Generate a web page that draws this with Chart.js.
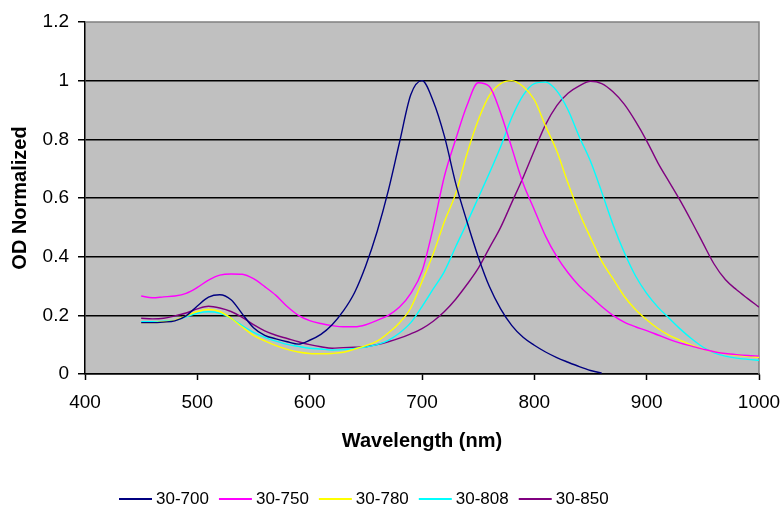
<!DOCTYPE html>
<html lang="en">
    <head>
        <meta charset="UTF-8" />
        <title>OD Normalized</title>
        <script src="https://cdn.jsdelivr.net/npm/chart.js"></script>
        <style>
            html, body { margin: 0; padding: 0; background: #fff; }
            #wrap { width: 782px; height: 508px; }
        </style>
    </head>
    <body>
        <div id="wrap"><canvas id="odChart"></canvas></div>

        <script>
            // Datos
            const wavelengths = [450, 460, 470, 480, 490, 500, 510, 520, 530, 540, 550, 560, 570, 580, 590, 600, 610, 620, 630, 640, 650, 660, 670, 680, 690, 700, 710, 720, 730, 740, 750, 760, 770, 780, 790, 800, 810, 820, 830, 840, 850, 860, 870, 880, 890, 900, 910, 920, 930, 940, 950, 960, 970, 980, 990, 1000];

            const s700 = [0.175, 0.175, 0.177, 0.181, 0.198, 0.232, 0.262, 0.27, 0.253, 0.205, 0.158, 0.132, 0.12, 0.11, 0.102, 0.115, 0.135, 0.168, 0.215, 0.278, 0.37, 0.485, 0.625, 0.79, 0.952, 1.0, 0.93, 0.81, 0.65, 0.52, 0.4, 0.298, 0.222, 0.165, 0.125, 0.098, 0.075, 0.056, 0.04, 0.025, 0.012, 0.003, null, null, null, null, null, null, null, null, null, null, null, null, null, null];
            const s750 = [0.266, 0.26, 0.263, 0.266, 0.275, 0.295, 0.32, 0.337, 0.341, 0.34, 0.325, 0.298, 0.268, 0.23, 0.2, 0.182, 0.172, 0.165, 0.161, 0.161, 0.168, 0.183, 0.2, 0.228, 0.275, 0.35, 0.5, 0.675, 0.8, 0.915, 0.993, 0.98, 0.89, 0.77, 0.65, 0.56, 0.47, 0.4, 0.345, 0.3, 0.265, 0.23, 0.2, 0.177, 0.161, 0.148, 0.133, 0.118, 0.105, 0.095, 0.085, 0.076, 0.07, 0.066, 0.063, 0.061];
            const s780 = [0.175, 0.175, 0.178, 0.183, 0.198, 0.213, 0.22, 0.213, 0.19, 0.16, 0.132, 0.113, 0.097, 0.084, 0.075, 0.07, 0.069, 0.07, 0.074, 0.085, 0.097, 0.112, 0.14, 0.175, 0.225, 0.315, 0.41, 0.52, 0.615, 0.75, 0.865, 0.95, 0.99, 1.0, 0.98, 0.935, 0.845, 0.76, 0.65, 0.55, 0.465, 0.385, 0.325, 0.265, 0.22, 0.185, 0.155, 0.132, 0.115, 0.098, 0.085, 0.076, 0.069, 0.064, 0.06, 0.057];
            const s808 = [0.178, 0.178, 0.18, 0.183, 0.195, 0.207, 0.212, 0.207, 0.19, 0.165, 0.142, 0.125, 0.112, 0.101, 0.094, 0.088, 0.085, 0.082, 0.083, 0.087, 0.092, 0.1, 0.115, 0.14, 0.175, 0.23, 0.29, 0.35, 0.434, 0.515, 0.6, 0.685, 0.775, 0.875, 0.95, 0.99, 0.995, 0.965, 0.9, 0.809, 0.725, 0.62, 0.51, 0.415, 0.335, 0.275, 0.228, 0.19, 0.153, 0.12, 0.092, 0.072, 0.061, 0.054, 0.05, 0.047];
            const s850 = [0.19, 0.188, 0.19, 0.198, 0.208, 0.222, 0.231, 0.225, 0.213, 0.193, 0.168, 0.147, 0.132, 0.121, 0.11, 0.1, 0.093, 0.088, 0.09, 0.091, 0.093, 0.1, 0.11, 0.122, 0.137, 0.155, 0.18, 0.213, 0.255, 0.305, 0.36, 0.43, 0.5, 0.585, 0.67, 0.762, 0.85, 0.915, 0.957, 0.982, 0.998, 0.99, 0.962, 0.92, 0.862, 0.795, 0.72, 0.655, 0.59, 0.52, 0.447, 0.375, 0.322, 0.287, 0.257, 0.228];

            const seriesNames = ["30-700", "30-750", "30-780", "30-808", "30-850"];
            const seriesValues = [s700, s750, s780, s808, s850];
            const seriesColors = ["#000080", "#FF00FF", "#FFFF00", "#00FFFF", "#800080"];

            const yTicks = [0, 0.2, 0.4, 0.6, 0.8, 1, 1.2];
            const FONT = "'Liberation Sans', Arial, sans-serif";

            // fondo gris del área de trazado + borde gris
            const plotBg = {
                id: "plotBg",
                beforeDraw(chart) {
                    const { ctx, chartArea: a } = chart;
                    ctx.save();
                    ctx.fillStyle = "#C0C0C0";
                    ctx.fillRect(a.left, a.top, a.right - a.left, a.bottom - a.top);
                    ctx.restore();
                },
                beforeDatasetsDraw(chart) {
                    const { ctx, chartArea: a } = chart;
                    ctx.save();
                    ctx.strokeStyle = "#808080";
                    ctx.lineWidth = 1.5;
                    ctx.beginPath();
                    ctx.moveTo(a.left, a.top);
                    ctx.lineTo(a.right, a.top);
                    ctx.lineTo(a.right, a.bottom);
                    ctx.stroke();
                    ctx.restore();
                },
            };

            // leyenda inferior (como en Excel)
            const bottomLegend = {
                id: "bottomLegend",
                afterDraw(chart) {
                    const { ctx } = chart;
                    ctx.save();
                    ctx.font = "17px " + FONT;
                    ctx.textBaseline = "middle";
                    let x = 119;
                    const y = 499;
                    chart.data.datasets.forEach((ds) => {
                        ctx.strokeStyle = ds.borderColor;
                        ctx.lineWidth = 2;
                        ctx.beginPath();
                        ctx.moveTo(x, y);
                        ctx.lineTo(x + 33, y);
                        ctx.stroke();
                        ctx.fillStyle = "#000";
                        ctx.fillText(ds.label, x + 37, y);
                        x += 37 + ctx.measureText(ds.label).width + 10;
                    });
                    ctx.restore();
                },
            };

            new Chart(document.getElementById("odChart"), {
                type: "line",
                data: {
                    datasets: seriesNames.map((name, i) => ({
                        label: name,
                        data: wavelengths.map((w, j) => ({ x: w, y: seriesValues[i][j] })),
                        borderColor: seriesColors[i],
                        backgroundColor: seriesColors[i],
                        borderWidth: 1.4,
                        pointRadius: 0,
                        cubicInterpolationMode: "monotone",
                        spanGaps: false,
                    })),
                },
                options: {
                    responsive: true,
                    maintainAspectRatio: false,
                    animation: false,
                    layout: { padding: { top: 22, right: 23, bottom: 54, left: 0 } },
                    plugins: { legend: { display: false }, tooltip: { enabled: false } },
                    scales: {
                        x: {
                            type: "linear",
                            min: 400,
                            max: 1000,
                            afterFit: (s) => {
                                s.height = 80;
                                s.paddingLeft = 0;
                                s.paddingRight = 0;
                            },
                            ticks: {
                                stepSize: 100,
                                padding: 11,
                                color: "#000",
                                font: { family: FONT, size: 19 },
                                callback: (v) => String(v),
                            },
                            grid: { drawOnChartArea: false, tickLength: 6, tickColor: "#000", tickWidth: 1.5 },
                            border: { color: "#000", width: 1.5 },
                            title: {
                                display: true,
                                text: "Wavelength (nm)",
                                color: "#000",
                                padding: { top: 0, bottom: 1 },
                                font: { family: FONT, size: 20, weight: "bold" },
                            },
                        },
                        y: {
                            min: 0,
                            max: 1.2,
                            afterFit: (s) => {
                                s.width = 85;
                                s.paddingTop = 0;
                                s.paddingBottom = 0;
                            },
                            afterBuildTicks: (s) => { s.ticks = yTicks.map((v) => ({ value: v })); },
                            ticks: {
                                padding: 9,
                                color: "#000",
                                font: { family: FONT, size: 19 },
                                callback: (v) => String(Math.round(v * 10) / 10),
                            },
                            grid: {
                                color: (c) => (c.tick && c.tick.value === 1.2 ? "rgba(0,0,0,0)" : "#000"),
                                lineWidth: 1.5,
                                tickLength: 7,
                                tickColor: "#000",
                                tickWidth: 1.5,
                            },
                            border: { color: "#000", width: 1.5 },
                            title: {
                                display: true,
                                text: "OD Normalized",
                                color: "#000",
                                padding: { top: 8, bottom: 0 },
                                font: { family: FONT, size: 20, weight: "bold" },
                            },
                        },
                    },
                },
                plugins: [plotBg, bottomLegend],
            });
        </script>
    </body>
</html>
